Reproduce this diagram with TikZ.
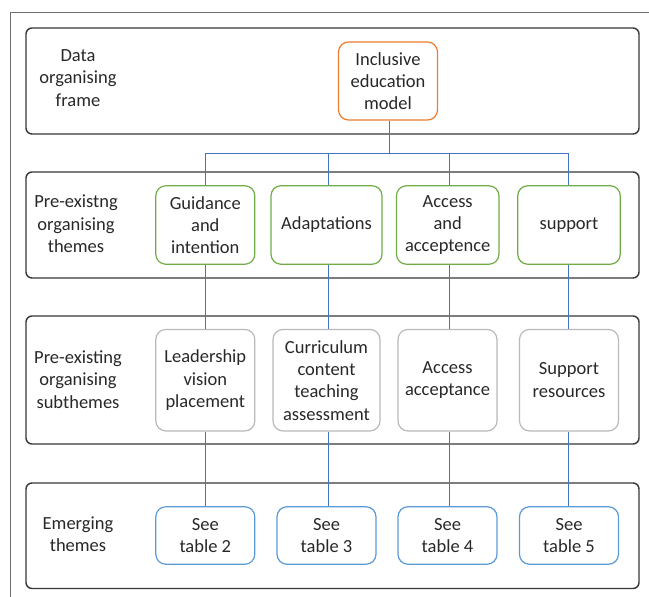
\documentclass[tikz,border=0pt]{standalone}
\usepackage{fontspec}
\setmainfont{Carlito}
\definecolor{txtgray}{RGB}{40,40,40}
\definecolor{framegray}{RGB}{110,110,110}
\definecolor{bandgray}{RGB}{55,55,55}
\definecolor{ieorange}{RGB}{237,125,49}
\definecolor{iegreen}{RGB}{112,173,71}
\definecolor{iegray}{RGB}{185,185,185}
\definecolor{ieblue}{RGB}{91,155,213}
\definecolor{linkblue}{RGB}{68,114,196}
\begin{document}
\begin{tikzpicture}[x=1pt,y=-1pt,
    every node/.style={font=\fontsize{18.5}{22.3}\selectfont,text=txtgray,align=center,inner sep=0pt},
    band/.style={draw=bandgray,line width=1.4pt,rounded corners=6pt},
    box/.style={draw,line width=1.2pt,rounded corners=10pt,minimum width=99pt},
    frame/.style={box,draw=ieorange,minimum height=78pt},
    theme/.style={box,draw=iegreen,minimum height=78.5pt},
    subtheme/.style={box,draw=iegray,minimum height=101.5pt},
    emerging/.style={box,draw=ieblue,minimum height=57.5pt},
    link/.style={draw=linkblue,line width=1.5pt}]
\useasboundingbox (0,0) rectangle (649,597);
% outer frame (cut off at right and bottom)
\draw[framegray,line width=1.3pt](10.7,597)--(10.7,12.3)--(649,12.3);
% bands
\draw[band](26,28) rectangle (639,134);
\draw[band](26,172) rectangle (639,278);
\draw[band](26,316) rectangle (639,444);
\draw[band](26,483) rectangle (639,588.5);
% row labels
\node (lab1) at (78,78) {Data\\organising\\frame};
\node (lab2) at (76,224) {Pre-existng\\organising\\themes};
\node (lab3) at (78,379.5) {Pre-existing\\organising\\subthemes};
\node (lab4) at (78,534.5) {Emerging\\themes};
% nodes
\node[frame] (model) at (388,81) {Inclusive\\education\\model};
\node[theme] (th1) at (205.3,225) {Guidance\\and\\intention};
\node[theme,minimum width=111pt] (th2) at (326.5,225) {Adaptations};
\node[theme,minimum width=102.5pt] (th3) at (447.7,225) {Access\\and\\acceptence};
\node[theme,minimum width=102.5pt] (th4) at (569,225) {support};
\node[subtheme] (sub1) at (205.3,380.2) {Leadership\\vision\\placement};
\node[subtheme,minimum width=107pt] (sub2) at (326.5,380.2) {Curriculum\\content\\teaching\\assessment};
\node[subtheme] (sub3) at (447.5,380.2) {Access\\acceptance};
\node[subtheme] (sub4) at (569,380.2) {Support\\resources};
\node[emerging] (em1) at (205.3,535.5) {See\\table 2};
\node[emerging] (em2) at (326.5,535.5) {See\\table 3};
\node[emerging] (em3) at (447.5,535.5) {See\\table 4};
\node[emerging] (em4) at (569,535.5) {See\\table 5};
% connectors
\coordinate (bus) at (389.5,153.5);
\coordinate (col1) at (205.5,153.5);
\coordinate (col2) at (328.5,153.5);
\coordinate (col3) at (449.5,153.5);
\coordinate (col4) at (568.5,153.5);
\draw[link](model.south-|bus)--(bus);
\draw[link](col1|-th1.north)--(col1)--(col4)--(col4|-th4.north);
\draw[link](col2)--(col2|-th2.north);
\draw[link](col3)--(col3|-th3.north);
\foreach \i in {1,...,4}{
    \draw[link](col\i|-th\i.south)--(col\i|-sub\i.north);
    \draw[link](col\i|-sub\i.south)--(col\i|-em\i.north);
}
\end{tikzpicture}
\end{document}
